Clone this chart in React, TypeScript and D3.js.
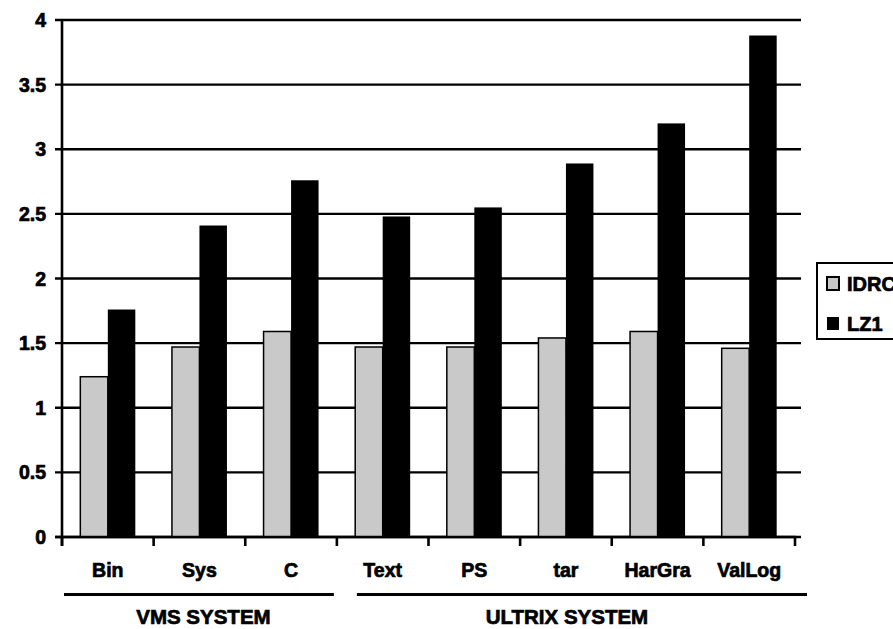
import React from "react";
import * as d3 from "d3";

const categories = ["Bin", "Sys", "C", "Text", "PS", "tar", "HarGra", "ValLog"];
const seriesNames = ["IDRC", "LZ1"];
const idrcValues = [1.24, 1.47, 1.59, 1.47, 1.47, 1.54, 1.59, 1.46];
const lz1Values = [1.76, 2.41, 2.76, 2.48, 2.55, 2.89, 3.2, 3.88];
const yTicks = [0, 0.5, 1, 1.5, 2, 2.5, 3, 3.5, 4];
const groups = [
  { name: "VMS SYSTEM", first: "Bin", last: "C" },
  { name: "ULTRIX SYSTEM", first: "Text", last: "ValLog" },
];

const W = 893;
const H = 629;
const FONT = "'Liberation Sans', Arial, Helvetica, sans-serif";
const COLORS: Record<string, string> = { IDRC: "#c9c9c9", LZ1: "#000000" };

export default function App() {
  const x0 = d3.scaleBand<string>().domain(categories).range([62, 795]).padding(0);
  const y = d3.scaleLinear().domain([0, 4]).range([537, 20]);
  const bw = x0.bandwidth();
  const groupW = 55;
  const x1 = d3
    .scaleBand<string>()
    .domain(seriesNames)
    .range([(bw - groupW) / 2, (bw + groupW) / 2])
    .padding(0);
  const values: Record<string, number[]> = { IDRC: idrcValues, LZ1: lz1Values };
  const boundaries = categories.map((c) => x0(c)!).concat([x0.range()[1]]);
  const textStyle = { stroke: "#000", strokeWidth: 0.7, paintOrder: "stroke" as const };

  return (
    <svg
      width={W}
      height={H}
      style={{ position: "absolute", left: 0, top: 0, background: "#fff" }}
      fontFamily={FONT}
      fontWeight="bold"
    >
      {/* gridlines */}
      {yTicks.map((t) => (
        <line key={"g" + t} x1={55} x2={801} y1={y(t)} y2={y(t)} stroke="#000" strokeWidth={2.4} />
      ))}
      {/* bars */}
      {categories.map((c, i) =>
        seriesNames.map((s) => {
          const v = values[s][i];
          const bx = x0(c)! + x1(s)!;
          return (
            <rect
              key={c + s}
              x={bx}
              y={y(v)}
              width={x1.bandwidth()}
              height={y(0) - y(v)}
              fill={COLORS[s]}
              stroke="#000"
              strokeWidth={s === "IDRC" ? 1.5 : 0}
            />
          );
        })
      )}
      {/* axes */}
      <line x1={62} x2={62} y1={19} y2={546} stroke="#000" strokeWidth={2.6} />
      <line x1={55} x2={796} y1={y(0)} y2={y(0)} stroke="#000" strokeWidth={2.6} />
      {boundaries.map((bx, i) => (
        <line key={"xt" + i} x1={bx} x2={bx} y1={y(0)} y2={546} stroke="#000" strokeWidth={2.6} />
      ))}
      {/* y labels */}
      {yTicks.map((t) => (
        <text key={"yl" + t} x={46} y={y(t) + 7} textAnchor="end" fontSize={19.5} fill="#000" style={textStyle}>
          {String(t)}
        </text>
      ))}
      {/* category labels */}
      {categories.map((c) => (
        <text key={"cl" + c} x={x0(c)! + bw / 2} y={577} textAnchor="middle" fontSize={19.5} fill="#000" style={textStyle}>
          {c}
        </text>
      ))}
      {/* group lines & labels */}
      {groups.map((g, gi) => {
        const a = x0(g.first)!;
        const b = x0(g.last)! + bw;
        const lx1 = gi === 0 ? a + 2 : a + 20;
        const lx2 = gi === 0 ? b - 3 : b + 12;
        return (
          <g key={g.name}>
            <line x1={lx1} x2={lx2} y1={594.5} y2={594.5} stroke="#000" strokeWidth={2.8} />
            <text x={(a + b) / 2 + (gi === 0 ? 4 : 1)} y={624} textAnchor="middle" fontSize={20.5} fill="#000" style={textStyle}>
              {g.name}
            </text>
          </g>
        );
      })}
      {/* legend */}
      <rect x={817} y={263} width={110} height={76} fill="#fff" stroke="#000" strokeWidth={2} />
      {seriesNames.map((s, i) => (
        <g key={"lg" + s}>
          <rect
            x={827}
            y={277 + i * 40}
            width={12}
            height={13}
            fill={COLORS[s]}
            stroke="#000"
            strokeWidth={s === "IDRC" ? 2 : 0}
          />
          <text x={847} y={291 + i * 40} fontSize={20} fill="#000" style={textStyle}>
            {s}
          </text>
        </g>
      ))}
    </svg>
  );
}
